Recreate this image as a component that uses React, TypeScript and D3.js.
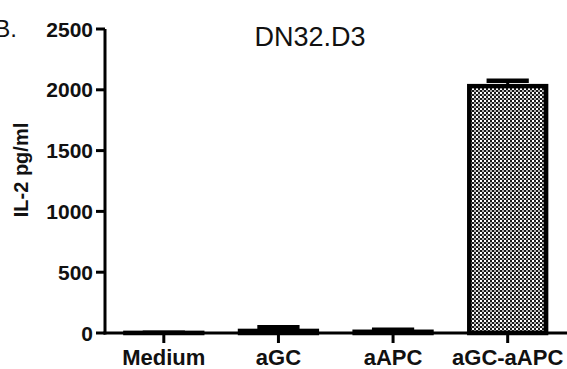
import React from "react";
import * as d3 from "d3";

const categories = ["Medium", "aGC", "aAPC", "aGC-aAPC"];
const means = [1, 17, 10, 2030];
const errors = [2, 30, 16, 45];
const yTicks = [0, 500, 1000, 1500, 2000, 2500];
const title = "DN32.D3";
const yLabel = "IL-2 pg/ml";
const panel = "B.";

export default function App() {
  const W = 567, H = 369;
  const x = d3.scaleBand<string>().domain(categories).range([106.5, 565]).paddingInner(0.33).paddingOuter(0.165);
  const y = d3.scaleLinear().domain([0, 2500]).range([333, 29]);
  const font = "Arial, 'Liberation Sans', Helvetica, sans-serif";
  const bw = x.bandwidth();
  const capW = bw * 0.55;
  return (
    <svg width={W} height={H} style={{ position: "absolute", left: 0, top: 0, background: "#fff" }}>
      <defs>
        <pattern id="dots" width={4} height={4} patternUnits="userSpaceOnUse">
          <rect width={4} height={4} fill="#1a1a1a" />
          <rect x={0} y={0} width={2} height={2} fill="#ffffff" />
          <rect x={2} y={2} width={2} height={2} fill="#b0b0b0" />
        </pattern>
      </defs>
      <text x={17} y={37} fontFamily={font} fontSize={24} textAnchor="end" fill="#111">{panel}</text>
      <text x={310} y={46} fontFamily={font} fontSize={27} textAnchor="middle" fill="#111">{title}</text>
      <text transform={`translate(28,170) rotate(-90)`} fontFamily={font} fontSize={20} fontWeight="bold" textAnchor="middle" fill="#111">{yLabel}</text>
      {categories.map((c, i) => {
        const cx = (x(c) as number) + bw / 2;
        const top = y(means[i]);
        const eTop = y(means[i] + errors[i]);
        return (
          <g key={c}>
            <line x1={cx} x2={cx} y1={top} y2={eTop} stroke="#000" strokeWidth={3} />
            <line x1={cx - capW / 2} x2={cx + capW / 2} y1={eTop} y2={eTop} stroke="#000" strokeWidth={4.5} />
            <rect x={x(c)} y={top} width={bw} height={Math.max(0.1, y(0) - top)} fill="url(#dots)" stroke="#000" strokeWidth={4.5} />
          </g>
        );
      })}
      <line x1={105} x2={105} y1={29} y2={334.5} stroke="#000" strokeWidth={3} />
      <line x1={103.5} x2={567} y1={333} y2={333} stroke="#000" strokeWidth={3} />
      {yTicks.map((t) => (
        <g key={t}>
          <line x1={96} x2={105} y1={y(t)} y2={y(t)} stroke="#000" strokeWidth={3} />
          <text x={93} y={y(t) + 7.5} fontFamily={font} fontSize={21} fontWeight="bold" textAnchor="end" fill="#111">{t}</text>
        </g>
      ))}
      {categories.map((c) => {
        const cx = (x(c) as number) + bw / 2;
        return (
          <g key={c}>
            <line x1={cx} x2={cx} y1={333} y2={343} stroke="#000" strokeWidth={3} />
            <text x={cx} y={365} fontFamily={font} fontSize={22} fontWeight="bold" textAnchor="middle" fill="#111">{c}</text>
          </g>
        );
      })}
    </svg>
  );
}
